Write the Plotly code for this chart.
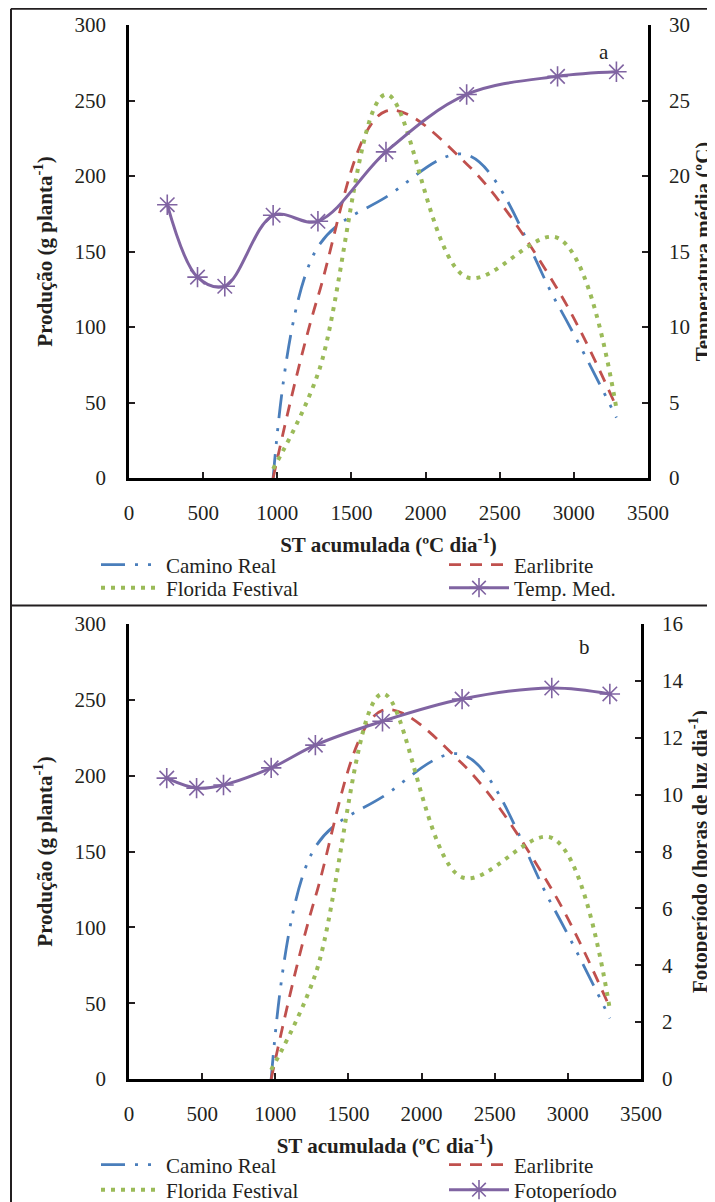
import plotly.graph_objects as go

# ---------------- data ----------------
st_meses = [258, 462, 646, 972, 1274, 1733, 2277, 2890, 3287]
temp_med = [18.1, 13.3, 12.7, 17.4, 17.0, 21.6, 25.4, 26.6, 26.9]
fotoperiodo = [10.58, 10.23, 10.34, 10.94, 11.74, 12.58, 13.36, 13.75, 13.54]

st_colheita = [972, 1274, 1733, 2277, 2890, 3287]
camino_real = [0, 153, 186, 214, 115, 40]
earlibrite = [0, 120, 243, 208, 125, 47]
florida_festival = [6, 69, 254, 133, 159, 46]

x_ticks = [0, 500, 1000, 1500, 2000, 2500, 3000, 3500]
prod_ticks = [0, 50, 100, 150, 200, 250, 300]
temp_ticks = [0, 5, 10, 15, 20, 25, 30]
foto_ticks = [0, 2, 4, 6, 8, 10, 12, 14, 16]

# ---------------- style ----------------
# the page has an 8px body margin, so the figure is 8px smaller and every
# screen position of the reference is shifted by 8px.
OFF = 8
W, H = 715 - OFF, 1202 - OFF
FONT = "Liberation Serif, Times New Roman, serif"
INK = "#231F20"
C_BLUE, C_RED, C_GREEN, C_PURPLE = "#4A7EBB", "#C0504D", "#9BBB59", "#8064A2"
FS = 21


def px_x(p):
    return (p - OFF) / W


def px_y(p):
    return 1 - (p - OFF) / H


fig = go.Figure()

panels = [
    dict(x="x", yl="y", yr="y2", legs=["legend", "legend2", "legend3", "legend4"],
         right=temp_med, right_name="Temp. Med."),
    dict(x="x2", yl="y3", yr="y4", legs=["legend5", "legend6", "legend7", "legend8"],
         right=fotoperiodo, right_name="Fotoperíodo"),
]

for p in panels:
    fig.add_trace(go.Scatter(
        x=st_colheita, y=camino_real, name="Camino Real", mode="lines",
        xaxis=p["x"], yaxis=p["yl"], legend=p["legs"][0],
        line=dict(color=C_BLUE, width=2.8, shape="spline",
                  dash="24px,10px,3px,10px,3px,10px")))
    fig.add_trace(go.Scatter(
        x=st_colheita, y=earlibrite, name="Earlibrite", mode="lines",
        xaxis=p["x"], yaxis=p["yl"], legend=p["legs"][1],
        line=dict(color=C_RED, width=2.8, shape="spline", dash="12px,9px")))
    fig.add_trace(go.Scatter(
        x=st_colheita, y=florida_festival, name="Florida Festival", mode="lines",
        xaxis=p["x"], yaxis=p["yl"], legend=p["legs"][2],
        line=dict(color=C_GREEN, width=4, shape="spline", dash="4px,6px")))
    fig.add_trace(go.Scatter(
        x=st_meses, y=p["right"], name=p["right_name"], mode="lines+markers",
        xaxis=p["x"], yaxis=p["yr"], legend=p["legs"][3],
        line=dict(color=C_PURPLE, width=3, shape="spline"),
        marker=dict(symbol="asterisk-open", size=17,
                    line=dict(color=C_PURPLE, width=1.6), color=C_PURPLE)))

tickfont = dict(family=FONT, size=FS, color=INK)
titlefont = dict(family=FONT, size=FS, color=INK)

common_x = dict(range=[0, 3500], tickvals=x_ticks, showgrid=False, zeroline=False,
                showline=True, linecolor="black", linewidth=2.5, ticks="inside",
                ticklen=6, tickwidth=2, tickcolor=INK, tickfont=tickfont,
                ticklabelstandoff=14, automargin=False)
common_yl = dict(showgrid=False, zeroline=False, showline=True, linecolor="black",
                 linewidth=2.5, ticks="inside", ticklen=6, tickwidth=2,
                 tickcolor=INK, tickfont=tickfont, ticklabelstandoff=16,
                 automargin=False)
common_yr = dict(common_yl, ticklabelstandoff=14)

fig.update_layout(
    width=W, height=H, margin=dict(l=0, r=0, t=0, b=0, autoexpand=False),
    paper_bgcolor="white", plot_bgcolor="white",
    font=dict(family=FONT, color=INK, size=FS),
    xaxis=dict(common_x, domain=[px_x(129), px_x(648)], anchor="y",
               title=dict(text="<b>ST acumulada (ºC dia<sup>-1</sup>)</b>",
                          font=titlefont, standoff=14)),
    yaxis=dict(common_yl, domain=[px_y(478), px_y(25)], anchor="x",
               range=[0, 300], tickvals=prod_ticks,
               title=dict(text="<b>Produção (g planta<sup>-1</sup>)</b>",
                          font=titlefont, standoff=17)),
    yaxis2=dict(common_yr, overlaying="y", side="right", anchor="x",
                range=[0, 30], tickvals=temp_ticks,
                title=dict(text="<b>Temperatura média (ºC)</b>",
                           font=titlefont, standoff=7)),
    xaxis2=dict(common_x, domain=[px_x(129), px_x(641)], anchor="y3",
                title=dict(text="<b>ST acumulada (ºC dia<sup>-1</sup>)</b>",
                           font=titlefont, standoff=14)),
    yaxis3=dict(common_yl, domain=[px_y(1079), px_y(624)], anchor="x2",
                range=[0, 300], tickvals=prod_ticks,
                title=dict(text="<b>Produção (g planta<sup>-1</sup>)</b>",
                           font=titlefont, standoff=17)),
    yaxis4=dict(common_yr, overlaying="y3", side="right", anchor="x2",
                range=[0, 16], tickvals=foto_ticks,
                title=dict(text="<b>Fotoperíodo (horas de luz dia<sup>-1</sup>)</b>",
                           font=titlefont, standoff=10)),
    showlegend=True,
)

leg_common = dict(orientation="h", xanchor="left", yanchor="middle",
                  bgcolor="rgba(0,0,0,0)", borderwidth=0, itemwidth=60,
                  font=dict(family=FONT, size=FS, color=INK))
col_x = [96, 444]
row_y = [565, 588, 1165, 1190]
fig.update_layout(
    legend=dict(leg_common, x=px_x(col_x[0]), y=px_y(row_y[0])),
    legend2=dict(leg_common, x=px_x(col_x[1]), y=px_y(row_y[0])),
    legend3=dict(leg_common, x=px_x(col_x[0]), y=px_y(row_y[1])),
    legend4=dict(leg_common, x=px_x(col_x[1]), y=px_y(row_y[1])),
    legend5=dict(leg_common, x=px_x(col_x[0]), y=px_y(row_y[2])),
    legend6=dict(leg_common, x=px_x(col_x[1]), y=px_y(row_y[2])),
    legend7=dict(leg_common, x=px_x(col_x[0]), y=px_y(row_y[3])),
    legend8=dict(leg_common, x=px_x(col_x[1]), y=px_y(row_y[3])),
)

fig.add_annotation(x=3203, y=282, xref="x", yref="y", text="a", showarrow=False,
                   font=dict(family=FONT, size=FS, color=INK))
fig.add_annotation(x=3116, y=285, xref="x2", yref="y3", text="b", showarrow=False,
                   font=dict(family=FONT, size=FS, color=INK))

# panel frames
frame = dict(color=INK, width=2)
fig.add_shape(type="line", xref="paper", yref="paper", x0=px_x(11), x1=1.02,
              y0=px_y(8.8), y1=px_y(8.8), line=frame)
fig.add_shape(type="line", xref="paper", yref="paper", x0=px_x(11), x1=1.02,
              y0=px_y(605.5), y1=px_y(605.5), line=frame)
fig.add_shape(type="line", xref="paper", yref="paper", x0=px_x(11), x1=px_x(11),
              y0=px_y(8.8), y1=-0.02, line=frame)

fig.write_html("out.html")
